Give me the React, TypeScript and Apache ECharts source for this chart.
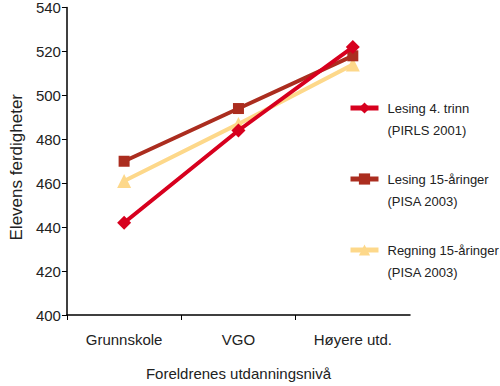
import React, { useEffect, useRef } from "react";
import * as echarts from "echarts";

const categories = ["Grunnskole", "VGO", "Høyere utd."];
const seriesNames = ["Lesing 4. trinn", "Lesing 15-åringer", "Regning 15-åringer"];
const seriesSub = ["(PIRLS 2001)", "(PISA 2003)", "(PISA 2003)"];
const lesing4 = [442, 484, 522];
const lesing15 = [470, 494, 518];
const regning15 = [461, 487, 514];
const colors = ["#d7001e", "#ab2d1f", "#fdd88a"];
const symbols = ["diamond", "rect", "triangle"];
const symbolSizes = [14, 11, 14];

export default function App() {
  const ref = useRef<HTMLDivElement>(null);
  useEffect(() => {
    const chart = echarts.init(ref.current!, null, { renderer: "svg" });
    const data = [lesing4, lesing15, regning15];
    const font = "Liberation Sans, Arial, sans-serif";
    const subMap: Record<string, string> = {};
    seriesNames.forEach((n, i) => (subMap[n] = seriesSub[i]));
    chart.setOption({
      animation: false,
      textStyle: { fontFamily: font },
      grid: { left: 58, right: 90, top: 7, bottom: 70 },
      legend: {
        orient: "vertical",
        left: 348,
        top: 75,
        padding: 0,
        itemGap: 5,
        itemWidth: 28,
        itemHeight: 14,
        data: seriesNames,
        lineStyle: { width: 5 },
        formatter: (name: string) => " \n" + name + "\n" + subMap[name],
        textStyle: {
          fontSize: 13,
          color: "#222",
          lineHeight: 22,
          fontFamily: font,
          padding: [0, 0, 0, 4],
        },
      },
      xAxis: {
        type: "category",
        data: categories,
        name: "Foreldrenes utdanningsnivå",
        nameLocation: "middle",
        nameGap: 51,
        nameTextStyle: { fontSize: 15, color: "#222", fontFamily: font },
        axisLine: { lineStyle: { color: "#000", width: 1.5 } },
        axisTick: { show: true, length: 5, lineStyle: { color: "#000" } },
        axisLabel: { fontSize: 15, color: "#222", margin: 17, fontFamily: font },
        splitLine: { show: false },
      },
      yAxis: {
        type: "value",
        min: 400,
        max: 540,
        interval: 20,
        name: "Elevens ferdigheter",
        nameLocation: "middle",
        nameGap: 40,
        nameTextStyle: {
          fontSize: 17,
          color: "#222",
          fontFamily: font,
          padding: [0, 12, 0, 0],
        },
        axisLine: { show: true, lineStyle: { color: "#000", width: 1.5 } },
        axisTick: { show: true, length: 5, lineStyle: { color: "#000" } },
        axisLabel: { fontSize: 15, color: "#222", margin: 6, fontFamily: font },
        splitLine: { show: false },
      },
      series: seriesNames.map((name, i) => ({
        name,
        type: "line",
        data: data[i],
        symbol: symbols[i],
        symbolSize: symbolSizes[i],
        showSymbol: true,
        z: 5 - i,
        lineStyle: { color: colors[i], width: 4 },
        itemStyle: { color: colors[i] },
      })),
    });
    return () => chart.dispose();
  }, []);
  return (
    <div
      ref={ref}
      style={{ position: "absolute", left: 0, top: 0, width: 500, height: 386 }}
    />
  );
}
